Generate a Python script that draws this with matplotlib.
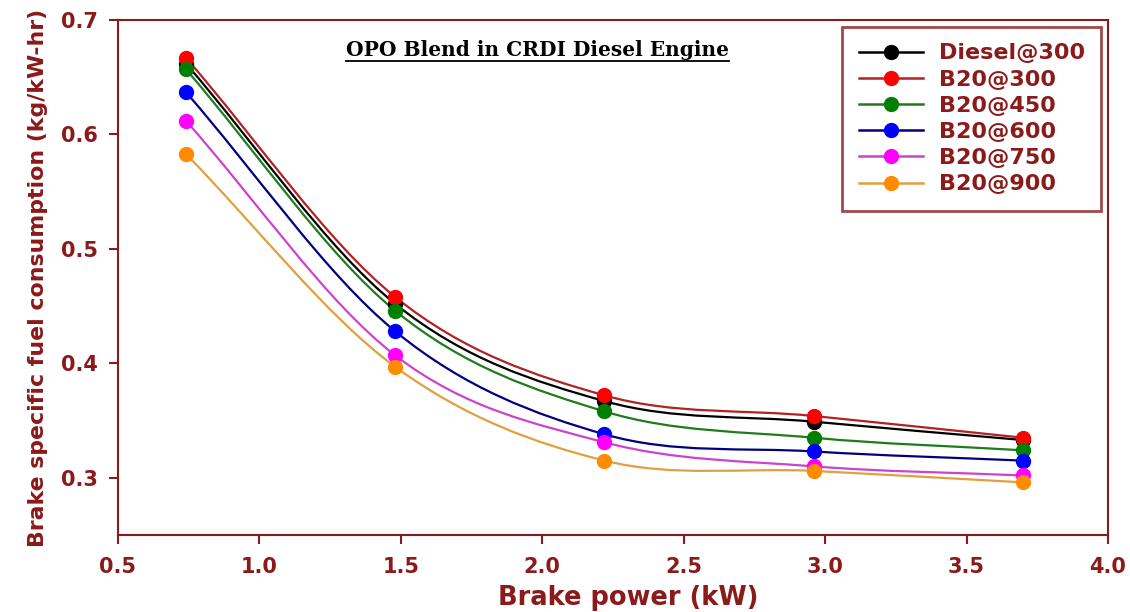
import matplotlib
matplotlib.use("Agg")
import matplotlib.pyplot as plt
from matplotlib.path import Path
from matplotlib.patches import PathPatch
from matplotlib.lines import Line2D
import numpy as np

# ---------------- data ----------------
brake_power = [0.74, 1.48, 2.22, 2.96, 3.70]
series_names = ["Diesel@300", "B20@300", "B20@450", "B20@600", "B20@750", "B20@900"]
diesel_300 = [0.662, 0.452, 0.367, 0.349, 0.333]
b20_300 = [0.667, 0.458, 0.372, 0.354, 0.335]
b20_450 = [0.657, 0.446, 0.358, 0.335, 0.324]
b20_600 = [0.637, 0.428, 0.338, 0.323, 0.315]
b20_750 = [0.612, 0.407, 0.331, 0.310, 0.302]
b20_900 = [0.583, 0.397, 0.315, 0.306, 0.296]
x_ticks = [0.5, 1.0, 1.5, 2.0, 2.5, 3.0, 3.5, 4.0]
y_ticks = [0.3, 0.4, 0.5, 0.6, 0.7]

all_series = [diesel_300, b20_300, b20_450, b20_600, b20_750, b20_900]
line_colors = ["#000000", "#B22222", "#1E7B1E", "#00007F", "#CC44CC", "#E0A040"]
marker_colors = ["#000000", "#FF0000", "#008000", "#0000FF", "#FF00FF", "#FF8C00"]

DARK_RED = "#8B1A1A"
plt.rcParams['font.family'] = ['DejaVu Sans']

fig = plt.figure(figsize=(11.3, 6.12), dpi=100)
ax = fig.add_axes([0.1044, 0.1258, 0.8761, 0.8415])


def smooth_path(xs, ys):
    pts = np.column_stack([xs, ys]).astype(float)
    n = len(pts)
    tang = np.zeros_like(pts)
    for i in range(n):
        if i == 0:
            tang[i] = pts[1] - pts[0]
        elif i == n - 1:
            tang[i] = pts[-1] - pts[-2]
        else:
            tang[i] = (pts[i + 1] - pts[i - 1]) / 2.0
    verts = [tuple(pts[0])]
    codes = [Path.MOVETO]
    for i in range(n - 1):
        c1 = pts[i] + tang[i] / 3.0
        c2 = pts[i + 1] - tang[i + 1] / 3.0
        verts += [tuple(c1), tuple(c2), tuple(pts[i + 1])]
        codes += [Path.CURVE4] * 3
    return Path(verts, codes)


handles = []
for name, vals, lc, mc in zip(series_names, all_series, line_colors, marker_colors):
    patch = PathPatch(smooth_path(brake_power, vals), facecolor="none",
                      edgecolor=lc, lw=1.6, transform=ax.transData)
    ax.add_patch(patch)
    ax.plot(brake_power, vals, linestyle="none", marker="o", markersize=10,
            markerfacecolor=mc, markeredgecolor=mc)
    handles.append(Line2D([], [], color=lc, lw=1.8, marker="o", markersize=10,
                          markerfacecolor=mc, markeredgecolor=mc, label=name))

ax.set_xlim(0.5, 4.0)
ax.set_ylim(0.25, 0.7)
ax.set_xticks(x_ticks)
ax.set_xticklabels([f"{v:.1f}" for v in x_ticks])
ax.set_yticks(y_ticks)
ax.set_yticklabels([f"{v:.1f}" for v in y_ticks])

for sp in ax.spines.values():
    sp.set_color(DARK_RED)
    sp.set_linewidth(1.5)
ax.tick_params(axis="both", direction="out", length=6.5, width=1.5, color=DARK_RED,
               labelcolor=DARK_RED, labelsize=15)
ax.tick_params(axis="x", pad=9)
ax.tick_params(axis="y", pad=8)
for lab in ax.get_xticklabels() + ax.get_yticklabels():
    lab.set_fontweight("bold")

ax.set_xlabel("Brake power (kW)", fontsize=18.5, fontweight="bold", color=DARK_RED)
ax.xaxis.label.set_va("center")
ax.xaxis.set_label_coords(0.515, -0.122)
ax.set_ylabel("Brake specific fuel consumption (kg/kW-hr)", fontsize=15.8,
              fontweight="bold", color=DARK_RED, labelpad=9)

leg = ax.legend(handles=handles, loc="upper right", bbox_to_anchor=(1.0, 1.0),
                prop={"family": "DejaVu Sans", "weight": "bold", "size": 16},
                frameon=True, fancybox=False, handlelength=2.9, labelspacing=0.28,
                borderpad=0.75, handletextpad=0.7, borderaxespad=0.3)
for t in leg.get_texts():
    t.set_color(DARK_RED)
frame = leg.get_frame()
frame.set_edgecolor(DARK_RED)
frame.set_linewidth(2)

title = fig.text(0.476, 0.908, "OPO Blend in CRDI Diesel Engine", ha="center",
                 va="baseline", fontsize=14.5, fontweight="bold", family="DejaVu Serif",
                 color="black")
fig.canvas.draw()
bb = title.get_window_extent(fig.canvas.get_renderer())
inv = fig.transFigure.inverted()
(x0, y0), (x1, y1) = inv.transform([[bb.x0, bb.y0], [bb.x1, bb.y1]])
fig.add_artist(Line2D([x0, x1], [y0 - 0.001, y0 - 0.001], color="black", lw=1.3,
                      transform=fig.transFigure))

fig.savefig("out.png", dpi=100)
